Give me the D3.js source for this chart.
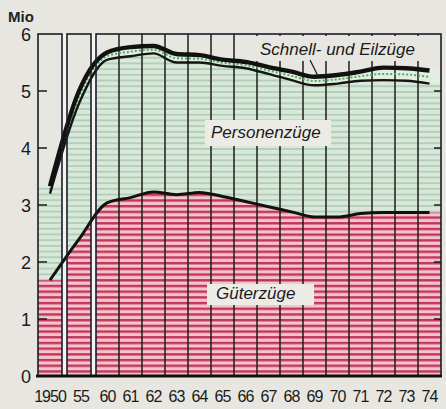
<!DOCTYPE html>
<html>
<head>
<meta charset="utf-8">
<script src="https://cdn.jsdelivr.net/npm/d3@7"></script>
<style>
  html, body { margin: 0; padding: 0; background: #e8e6e0; }
  svg { display: block; }
</style>
</head>
<body>
<script>
// Zugleistungen der Bahn, Mio Zugkilometer
const years = [1950, 1955, 1960, 1961, 1962, 1963, 1964, 1965, 1966, 1967, 1968, 1969, 1970, 1971, 1972, 1973, 1974];
const gueter = [1.68, 2.40, 3.04, 3.13, 3.23, 3.18, 3.22, 3.15, 3.06, 2.97, 2.88, 2.79, 2.79, 2.85, 2.87, 2.87, 2.87];
const personen = [3.20, 4.78, 5.55, 5.61, 5.66, 5.50, 5.50, 5.44, 5.40, 5.30, 5.19, 5.10, 5.13, 5.18, 5.19, 5.18, 5.13];
const gesamt = [3.33, 5.00, 5.68, 5.77, 5.79, 5.65, 5.63, 5.55, 5.51, 5.42, 5.34, 5.25, 5.28, 5.34, 5.41, 5.40, 5.36];
const xLabels = ["1950", "55", "60", "61", "62", "63", "64", "65", "66", "67", "68", "69", "70", "71", "72", "73", "74"];
const yTicks = [0, 1, 2, 3, 4, 5, 6];

const w = 446, h = 409;
const bg = "#e8e6e0";

const svg = d3.select("body").append("svg")
  .attr("width", w).attr("height", h);

// piecewise x scale: two single-year panels, then one panel per year
const x = d3.scaleLinear()
  .domain([1950, 1955, 1960, 1974])
  .range([50, 79, 107.5, 429.5]);
const y = d3.scaleLinear().domain([0, 6]).range([376, 34]);

const band = x(1961) - x(1960);
const panels = [
  [x(1950) - 12, x(1950) + 12],
  [x(1955) - 12, x(1955) + 12],
  [x(1960) - band / 2, x(1974) + band / 2]
];
const yTop = y(6), yBot = y(0);

svg.append("rect").attr("width", w).attr("height", h).attr("fill", bg);

// patterns (stripe every 0.1 Mio)
const step = y(0) - y(0.1);
const defs = svg.append("defs");
function stripes(id, base, line, lw) {
  const p = defs.append("pattern").attr("id", id)
    .attr("patternUnits", "userSpaceOnUse")
    .attr("width", 10).attr("height", step)
    .attr("y", yBot % step);
  p.append("rect").attr("width", 10).attr("height", step).attr("fill", base);
  p.append("rect").attr("width", 10).attr("height", lw).attr("fill", line);
}
stripes("pink", "#f3c4cd", "#c4345a", 2.4);
stripes("green", "#d9e8da", "#afcfb6", 1.8);

defs.append("clipPath").attr("id", "clip")
  .selectAll("rect").data(panels.slice(1)).join("rect")
  .attr("x", d => d[0]).attr("y", yTop)
  .attr("width", d => d[1] - d[0]).attr("height", yBot - yTop);

// gaps between panels
svg.append("g").selectAll("rect")
  .data([[panels[0][1], panels[1][0]], [panels[1][1], panels[2][0]]])
  .join("rect")
  .attr("x", d => d[0]).attr("y", yTop)
  .attr("width", d => d[1] - d[0]).attr("height", yBot - yTop)
  .attr("fill", "#f4f3ef");

// panel 1: flat fill with 1950 values
const p1 = svg.append("g");
p1.append("rect").attr("x", panels[0][0]).attr("width", panels[0][1] - panels[0][0])
  .attr("y", y(gesamt[0])).attr("height", y(gueter[0]) - y(gesamt[0]))
  .attr("fill", "url(#green)");
p1.append("rect").attr("x", panels[0][0]).attr("width", panels[0][1] - panels[0][0])
  .attr("y", y(gueter[0])).attr("height", yBot - y(gueter[0]))
  .attr("fill", "url(#pink)");

// areas in panels 2 and 3
const data = years.map((yr, i) => ({ x: x(yr), g: gueter[i], p: personen[i], t: gesamt[i] }));
const areaData = data.concat([Object.assign({}, data[data.length - 1], { x: panels[2][1] + 2 })]);
const areas = svg.append("g").attr("clip-path", "url(#clip)");
const area = (lo, hi) => d3.area().curve(d3.curveMonotoneX)
  .x(d => d.x).y0(lo).y1(hi);
areas.append("path").datum(areaData)
  .attr("d", area(d => y(d.p), d => y(d.t))).attr("fill", "#e3eee0");
areas.append("path").datum(areaData)
  .attr("d", area(d => y(d.g), d => y(d.p))).attr("fill", "url(#green)");
areas.append("path").datum(areaData)
  .attr("d", area(() => yBot, d => y(d.g))).attr("fill", "url(#pink)");

// year separators in panel 3
svg.append("g").selectAll("line")
  .data(years.slice(3))
  .join("line")
  .attr("x1", d => x(d) - band / 2).attr("x2", d => x(d) - band / 2)
  .attr("y1", yTop).attr("y2", yBot)
  .attr("stroke", "#1d1d1d").attr("stroke-width", 1.5);

// label boxes
const boxes = [
  { x0: 248, x1: 426, y0: 36, y1: 61, fill: bg },
  { x0: 205, x1: 331, y0: 120, y1: 146, fill: "#ecebe6" },
  { x0: 207, x1: 314, y0: 284, y1: 305, fill: "#ecebe6" }
];
svg.append("g").selectAll("rect").data(boxes).join("rect")
  .attr("x", d => d.x0).attr("y", d => d.y0)
  .attr("width", d => d.x1 - d.x0).attr("height", d => d.y1 - d.y0)
  .attr("fill", d => d.fill);

// lines
const line = acc => d3.line().curve(d3.curveMonotoneX).x(d => d.x).y(acc);
svg.append("path").datum(data)
  .attr("d", line(d => y((d.p + d.t) / 2)))
  .attr("fill", "none").attr("stroke", "#52a864")
  .attr("stroke-width", 2).attr("stroke-dasharray", "2,2");
svg.append("path").datum(data).attr("d", line(d => y(d.p)))
  .attr("fill", "none").attr("stroke", "#151515").attr("stroke-width", 2.4);
svg.append("path").datum(data).attr("d", line(d => y(d.t)))
  .attr("fill", "none").attr("stroke", "#111").attr("stroke-width", 4.4);
svg.append("path").datum(data).attr("d", line(d => y(d.g)))
  .attr("fill", "none").attr("stroke", "#111").attr("stroke-width", 3);

// panel frames
svg.append("g").selectAll("rect").data(panels).join("rect")
  .attr("x", d => d[0]).attr("y", yTop)
  .attr("width", d => d[1] - d[0]).attr("height", yBot - yTop)
  .attr("fill", "none").attr("stroke", "#1c1c2a").attr("stroke-width", 1.6);
svg.append("line")
  .attr("x1", panels[0][0] - 2).attr("x2", panels[2][1] + 1)
  .attr("y1", yBot).attr("y2", yBot)
  .attr("stroke", "#111").attr("stroke-width", 2.8);

// inner ticks
const ticks = svg.append("g").attr("stroke", "#1a1a1a").attr("stroke-width", 1.5);
ticks.selectAll(".tl").data(yTicks.slice(1, 6)).join("line")
  .attr("x1", panels[0][0]).attr("x2", panels[0][0] + 9)
  .attr("y1", d => y(d)).attr("y2", d => y(d));
ticks.selectAll(".tr").data(yTicks.slice(1, 6)).join("line")
  .attr("x1", panels[2][1] - 7).attr("x2", panels[2][1])
  .attr("y1", d => y(d)).attr("y2", d => y(d));

// y labels
svg.append("g").selectAll("text").data(yTicks).join("text")
  .attr("x", 31).attr("y", d => y(d) + 6.5)
  .attr("text-anchor", "end")
  .style("font-family", "'Liberation Sans', Arial, sans-serif")
  .style("font-size", "18px").attr("fill", "#1a1a1a")
  .text(d => d);
svg.append("text").attr("x", 8).attr("y", 22)
  .style("font-family", "'Liberation Sans', Arial, sans-serif")
  .style("font-size", "15px").style("font-weight", "bold").attr("fill", "#222")
  .text("Mio");

// x labels
svg.append("g").selectAll("text").data(years).join("text")
  .attr("x", (d, i) => x(d) + (i === 1 ? 2 : 0)).attr("y", 402)
  .attr("text-anchor", "middle")
  .style("font-family", "'Liberation Sans', Arial, sans-serif")
  .style("font-size", "16px").style("letter-spacing", "-1px")
  .attr("fill", "#1a1a1a")
  .text((d, i) => xLabels[i]);

// series labels
const lab = svg.append("g")
  .style("font-family", "'Liberation Sans', Arial, sans-serif")
  .style("font-size", "17px").style("font-style", "italic").attr("fill", "#1a1a1a");
lab.append("text").attr("x", 260).attr("y", 55).text("Schnell- und Eilzüge");
lab.append("text").attr("x", 211).attr("y", 138).text("Personenzüge");
lab.append("text").attr("x", 216).attr("y", 299).text("Güterzüge");
svg.append("line").attr("x1", 310).attr("y1", 60).attr("x2", 318).attr("y2", 76)
  .attr("stroke", "#1a1a1a").attr("stroke-width", 1.2);
</script>
</body>
</html>
